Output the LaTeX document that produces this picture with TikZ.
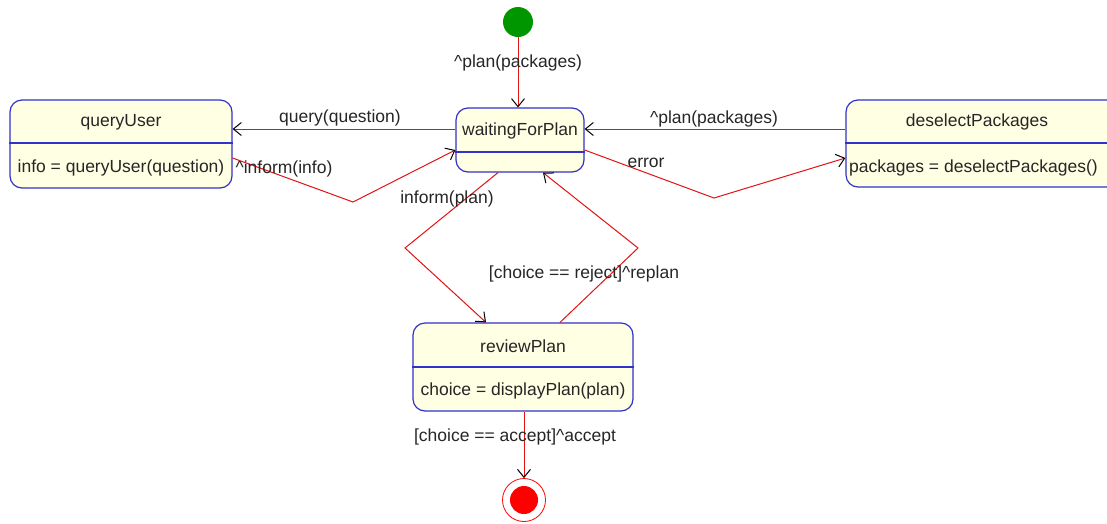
\documentclass[tikz,border=0pt]{standalone}
\usepackage{fontspec}
\setmainfont{Liberation Sans}
\usetikzlibrary{arrows.meta}
\definecolor{boxfill}{RGB}{255,255,228}
\definecolor{boxline}{RGB}{50,50,200}
\definecolor{trred}{RGB}{225,20,20}
\definecolor{initgreen}{RGB}{0,150,0}
\begin{document}
\begin{tikzpicture}[x=1pt,y=-1pt,
  every node/.style={font=\fontsize{17.5}{20}\selectfont, text=black!85},
  statebox/.style={draw=boxline, fill=boxfill, line width=1.2pt, rounded corners=12pt, inner sep=0pt},
  divider/.style={draw=boxline, line width=1.2pt},
  txt/.style={inner sep=0pt, anchor=center},
  tr/.style={draw=trred, line width=1pt, -{Straight Barb[length=8pt,width=13pt,color=black,line width=1pt]}},
  lbl/.style={inner sep=0pt, fill=none}]
\clip (0,0) rectangle (1107,523);
\fill[white] (0,0) rectangle (1107,523);

% states
\node[statebox, minimum width=222pt, minimum height=88pt] (qu) at (121,144) {};
\draw[divider] (qu.west |- 0,143) -- (qu.east |- 0,143);
\node[txt] (quT) at (121,122) {queryUser};
\node[txt] (quA) at (121,168) {info = queryUser(question)};

\node[statebox, minimum width=128pt, minimum height=64pt] (wfp) at (520,140) {};
\draw[divider] (wfp.west |- 0,152) -- (wfp.east |- 0,152);
\node[txt] (wfpT) at (520,131) {waitingForPlan};

\node[statebox, minimum width=274pt, minimum height=87pt] (ds) at (983,143.5) {};
\draw[divider] (ds.west |- 0,143) -- (ds.east |- 0,143);
\node[txt] (dsT) at (977,122) {deselectPackages};
\node[txt, anchor=west] (dsA) at (849,168) {packages = deselectPackages()};

\node[statebox, minimum width=220pt, minimum height=88pt] (rp) at (523,367) {};
\draw[divider] (rp.west |- 0,367) -- (rp.east |- 0,367);
\node[txt] (rpT) at (523,346) {reviewPlan};
\node[txt] (rpA) at (523,391) {choice = displayPlan(plan)};

% pseudo states
\node[circle, fill=initgreen, minimum size=30pt, inner sep=0pt] (init) at (518,22) {};
\node[circle, draw=red, line width=0.8pt, fill=white, minimum size=43pt, inner sep=0pt] (fin) at (524,500) {};
\node[circle, fill=red, minimum size=28pt, inner sep=0pt] (finI) at (524,500) {};

% bend points
\coordinate (b1) at (353,202);
\coordinate (b2) at (714,198);
\coordinate (b3) at (405,248);
\coordinate (b4) at (638,248);

% transitions
\draw[tr] (init.south) -- (init.south |- wfp.north);
\draw[tr] (wfp.west |- 0,129) -- (qu.east |- 0,129);
\draw[tr] (ds.west |- 0,129) -- (wfp.east |- 0,129);
\draw[tr] (qu.east |- 0,158) -- (b1) -- (wfp.west |- 0,150);
\draw[tr] (wfp.east |- 0,150) -- (b2) -- (ds.west |- 0,158);
\draw[tr] (wfp.south -| 498,0) -- (b3) -- (rp.north -| 486,0);
\draw[tr] (rp.north -| 560,0) -- (b4) -- (wfp.south -| 543,0);
\draw[tr] (rp.south -| fin.north) -- (fin.north);

% labels
\node[lbl] (l1) at (518,63) {\textasciicircum plan(packages)};
\node[lbl] (l2) at (340,118) {query(question)};
\node[lbl] (l3) at (714,119) {\textasciicircum plan(packages)};
\node[lbl] (l4) at (284,169) {\textasciicircum inform(info)};
\node[lbl] (l5) at (646,163) {error};
\node[lbl] (l6) at (447,199) {inform(plan)};
\node[lbl] (l7) at (584,274) {[choice == reject]\textasciicircum replan};
\node[lbl] (l8) at (515,437) {[choice == accept]\textasciicircum accept};
\end{tikzpicture}
\end{document}
